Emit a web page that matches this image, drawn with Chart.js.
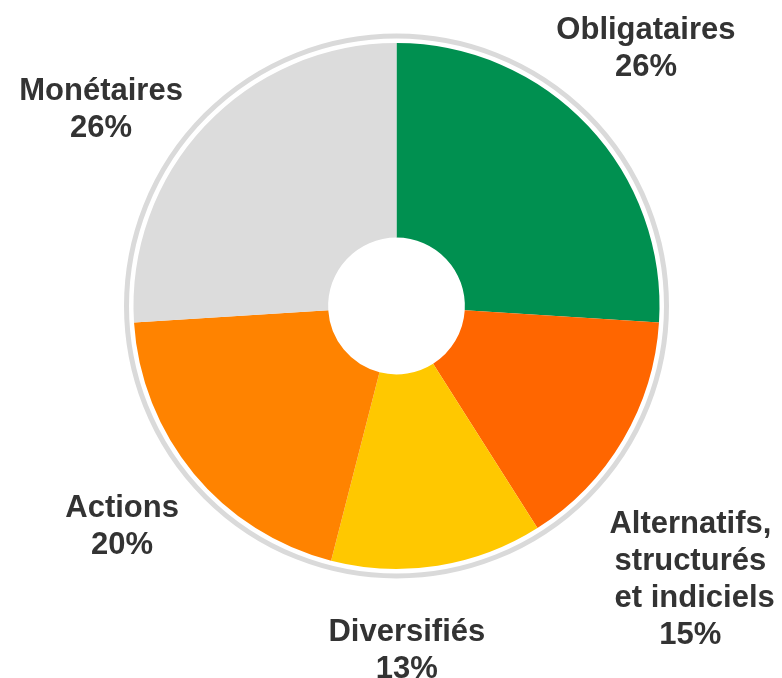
<!DOCTYPE html>
<html>
<head>
<meta charset="utf-8">
<script src="https://cdn.jsdelivr.net/npm/chart.js@4.4.1/dist/chart.umd.min.js"></script>
<style>
  html, body { margin: 0; padding: 0; background: #fff; }
  canvas { display: block; }
</style>
</head>
<body>
<canvas id="allocChart" width="782" height="678"></canvas>
<script>
// --- data ---
const categories = ['Obligataires', 'Alternatifs,\nstructurés\n et indiciels', 'Diversifiés', 'Actions', 'Monétaires'];
const shares     = [26, 15, 13, 20, 26];
const colors     = ['#009050', '#FF6600', '#FFC800', '#FF8300', '#DCDCDC'];

// label nudges (px) from the point 360px out along each slice's mid angle
const labelNudge = [[-13, -21], [-16, 44], [-46, -21], [3, -18], [-33, 40]];

// grey ring around the pie + the category labels
const decoPlugin = {
    id: 'deco',
    afterDraw(chart) {
        const c = chart.ctx;
        const meta = chart.getDatasetMeta(0);
        const first = meta.data[0];
        const cx = first.x, cy = first.y, R = first.outerRadius;

        c.save();
        c.beginPath();
        c.arc(cx, cy, R + 7, 0, Math.PI * 2);
        c.strokeStyle = '#DADADA';
        c.lineWidth = 5;
        c.stroke();

        c.fillStyle = '#333333';
        c.font = 'bold 31px "Liberation Sans", Arial, sans-serif';
        c.textAlign = 'center';
        c.textBaseline = 'alphabetic';
        const lh = 37;
        meta.data.forEach((arc, i) => {
            const mid = (arc.startAngle + arc.endAngle) / 2;
            const x = cx + Math.cos(mid) * 360 + labelNudge[i][0];
            const y = cy + Math.sin(mid) * 360 + labelNudge[i][1];
            const lines = categories[i].split('\n').concat([shares[i] + '%']);
            lines.forEach((t, k) => c.fillText(t, x, y + k * lh));
        });
        c.restore();
    }
};

const ctx = document.getElementById('allocChart').getContext('2d');
new Chart(ctx, {
    type: 'doughnut',
    data: {
        labels: categories,
        datasets: [{
            data: shares,
            backgroundColor: colors,
            borderWidth: 0
        }]
    },
    options: {
        responsive: false,
        animation: false,
        cutout: '26%',
        layout: { padding: { left: 133.5, right: 122.5, top: 43, bottom: 109 } },
        plugins: {
            legend: { display: false },
            tooltip: { enabled: false }
        }
    },
    plugins: [decoPlugin]
});
</script>
</body>
</html>
